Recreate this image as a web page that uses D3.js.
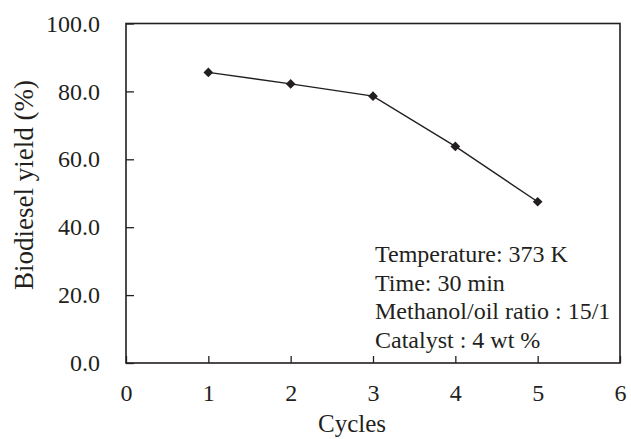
<!DOCTYPE html>
<html>
<head>
<meta charset="utf-8">
<script src="https://cdn.jsdelivr.net/npm/d3@7"></script>
<style>
  body { margin: 0; background: #fff; }
</style>
</head>
<body>
<div id="chart"></div>
<script>
// data
const cycles = [1, 2, 3, 4, 5];
const yieldValues = [85.6, 82.2, 78.6, 63.8, 47.5];
const xTicks = [0, 1, 2, 3, 4, 5, 6];
const yTicks = [0, 20, 40, 60, 80, 100];
const notes = [
  "Temperature: 373 K",
  "Time: 30 min",
  "Methanol/oil ratio : 15/1",
  "Catalyst : 4 wt %",
];

const W = 631, H = 439;
const MARGIN = { top: 23.5, right: 11, bottom: 76, left: 126 };
const width = W - MARGIN.left - MARGIN.right;
const height = H - MARGIN.top - MARGIN.bottom;
const INK = "#231f20";
const FONT = "'Liberation Serif', 'Times New Roman', Times, serif";
const FS = "24px";

const svg = d3.select("#chart").append("svg")
  .attr("width", W).attr("height", H)
  .style("font-family", FONT);
const g = svg.append("g")
  .attr("transform", `translate(${MARGIN.left},${MARGIN.top})`);

const x = d3.scaleLinear().domain([0, 6]).range([0, width]);
const y = d3.scaleLinear().domain([0, 100]).range([height, 0]);

// frame
g.append("rect")
  .attr("width", width).attr("height", height)
  .attr("fill", "none").attr("stroke", INK).attr("stroke-width", 1.6);

// x axis (ticks pointing inward)
const xAxis = g.append("g")
  .attr("transform", `translate(0,${height})`)
  .call(d3.axisBottom(x).tickValues(xTicks).tickSizeInner(-7).tickSizeOuter(0)
    .tickPadding(21).tickFormat(d3.format("d")));
xAxis.select(".domain").remove();
xAxis.attr("font-family", null).attr("font-size", null);
xAxis.selectAll("line").attr("stroke", INK).attr("stroke-width", 1.3);
xAxis.selectAll("text").style("font-family", FONT).style("font-size", FS).attr("fill", INK);

// y axis
const yAxis = g.append("g")
  .call(d3.axisLeft(y).tickValues(yTicks).tickSizeInner(-8).tickSizeOuter(0)
    .tickPadding(26).tickFormat(d3.format(".1f")));
yAxis.select(".domain").remove();
yAxis.attr("font-family", null).attr("font-size", null);
yAxis.selectAll("line").attr("stroke", INK).attr("stroke-width", 1.3);
yAxis.selectAll("text").style("font-family", FONT).style("font-size", FS).attr("fill", INK);

// axis titles
svg.append("text")
  .attr("x", 352).attr("y", 432)
  .attr("text-anchor", "middle")
  .style("font-family", FONT).style("font-size", "25px").attr("fill", INK)
  .text("Cycles");
svg.append("text")
  .attr("transform", `translate(33,185) rotate(-90)`)
  .attr("text-anchor", "middle")
  .style("font-family", FONT).style("font-size", "27px").attr("fill", INK)
  .text("Biodiesel yield (%)");

// line and markers
const pts = cycles.map((c, i) => ({ c, v: yieldValues[i] }));
g.append("path")
  .datum(pts)
  .attr("fill", "none").attr("stroke", INK).attr("stroke-width", 1.4)
  .attr("d", d3.line().x(d => x(d.c)).y(d => y(d.v)));
g.selectAll(".mark")
  .data(pts).join("path")
  .attr("class", "mark")
  .attr("transform", d => `translate(${x(d.c)},${y(d.v)})`)
  .attr("d", d3.symbol(d3.symbolDiamond2, 60))
  .attr("fill", INK);

// annotation
svg.append("g").selectAll("text")
  .data(notes).join("text")
  .attr("x", 375)
  .attr("y", (_, i) => 262 + i * 28.7)
  .style("font-family", FONT).style("font-size", FS).attr("fill", INK)
  .text(d => d);
</script>
</body>
</html>
